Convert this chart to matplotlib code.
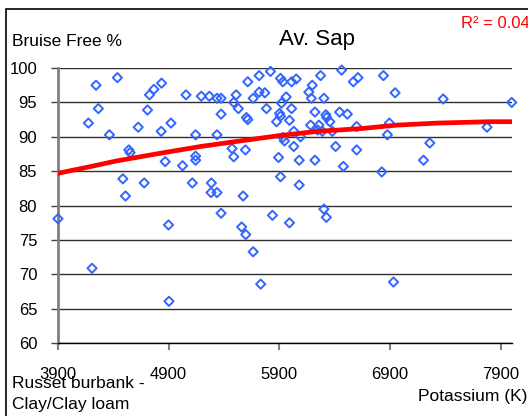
import matplotlib.pyplot as plt
from matplotlib.patches import Rectangle

# potassium (K) vs bruise free %
potassium = [4244, 4437, 4265, 4175, 4365, 4727, 4767, 4836, 5057, 5195,
             5268, 4709, 4625, 4833, 4921, 5144, 4540, 4552, 4869, 5026,
             5144, 5144, 4486, 4679, 5114, 4510, 5337, 5374, 5374, 5337,
             5615, 5718, 5820, 5510, 5488, 5530, 5603, 5615, 5664, 5718,
             5769, 5784, 5911, 5932, 6011, 6053, 5920, 5962, 5902, 5911,
             5875, 6011, 5992, 6031, 6092, 5932, 5947, 6031, 5893, 5911,
             6080, 6080, 6222, 5473, 5488, 5594, 5286, 5283, 5337, 5573,
             6198, 6167, 6189, 6273, 6222, 6303, 6321, 6328, 6357, 6183,
             6246, 6258, 6289, 6379, 6409, 6479, 6463, 6569, 6611, 6445,
             6515, 6599, 6599, 6841, 6946, 7381, 8000, 6895, 6877, 7260,
             7203, 6826, 7777, 3900, 4899, 4208, 4903, 5374, 5560, 5597,
             5664, 5838, 5992, 6303, 6325, 5732, 6932]
bruise_free = [97.5, 98.6, 94.1, 92.0, 90.3, 96.1, 96.9, 97.8, 96.1, 95.9,
               95.9, 93.9, 91.4, 90.8, 92.0, 90.3, 88.1, 87.7, 86.4, 85.8,
               87.2, 86.6, 83.9, 83.3, 83.3, 81.4, 95.6, 95.6, 93.3, 90.3,
               98.0, 98.9, 99.5, 96.1, 95.0, 94.1, 92.8, 92.5, 95.6, 96.5,
               96.4, 94.1, 98.5, 98.0, 98.0, 98.4, 94.9, 95.8, 93.4, 93.0,
               92.2, 94.1, 92.4, 90.8, 90.0, 89.9, 89.4, 88.6, 87.0, 84.2,
               86.6, 83.0, 86.6, 88.3, 87.1, 88.1, 83.3, 81.9, 81.9, 81.4,
               97.5, 96.5, 95.6, 98.9, 93.6, 95.6, 93.2, 92.8, 92.2, 91.7,
               91.0, 91.7, 90.8, 90.8, 88.6, 85.7, 99.7, 98.0, 98.6, 93.6,
               93.3, 91.5, 88.1, 98.9, 96.4, 95.5, 95.0, 92.0, 90.3, 89.1,
               86.6, 84.9, 91.4, 78.1, 77.2, 70.9, 66.1, 78.9, 76.9, 75.8,
               73.3, 78.6, 77.5, 79.5, 78.3, 68.6, 68.9]

# trend line as drawn in the picture
trend_x = [3900, 4200, 4430, 4820, 5190, 5500, 5910, 6250, 6640, 6960, 7330, 7810, 8000]
trend_y = [84.7, 85.7, 86.5, 87.6, 88.6, 89.3, 90.2, 90.8, 91.2, 91.7, 92.0, 92.2, 92.2]

x_ticks = [3900, 4900, 5900, 6900, 7900]
y_ticks = [60, 65, 70, 75, 80, 85, 90, 95, 100]

plt.rcParams['font.family'] = ['Liberation Sans', 'DejaVu Sans']

fig = plt.figure(figsize=(5.28, 4.16), dpi=100)
ax = fig.add_axes([0.1098, 0.1748, 0.8593, 0.6617])

# outer chart border (runs off the right and bottom edges)
fig.patches.append(Rectangle((6 / 528, -0.05), 1.2, 1 - 9 / 416 + 0.05,
                             transform=fig.transFigure, fill=False,
                             edgecolor='black', linewidth=1.2))

ax.scatter(potassium, bruise_free, marker='D', s=22, facecolors='none',
           edgecolors='#3366ff', linewidths=1.4, zorder=3, clip_on=False)
ax.plot(trend_x, trend_y, color='#ff0000', linewidth=3.4, zorder=4,
        solid_capstyle='round')

ax.set_xlim(3900, 8000)
ax.set_ylim(60, 100)
ax.set_xticks(x_ticks)
ax.set_yticks(y_ticks)
ax.yaxis.grid(True, color='#303030', linewidth=1.0)
ax.set_axisbelow(True)

for s in ['top', 'right']:
    ax.spines[s].set_visible(False)
ax.spines['left'].set_color('#808080')
ax.spines['left'].set_linewidth(2)
ax.spines['bottom'].set_color('black')
ax.spines['bottom'].set_linewidth(1)

ax.tick_params(axis='y', length=5, width=1, color='#404040', pad=10, labelsize=12)
ax.tick_params(axis='x', length=5, width=1.5, color='#808080', pad=12, labelsize=12)

fig.text(317 / 528, 1 - 40 / 416, 'Av. Sap', ha='center', va='center', fontsize=16)
fig.text(12 / 528, 1 - 42 / 416, 'Bruise Free %', ha='left', va='center', fontsize=12.5)
fig.text(461 / 528, 1 - 23 / 416, 'R² = 0.04', ha='left', va='center',
         fontsize=12, color='#ff0000')
fig.text(12 / 528, 1 - 383 / 416, 'Russet burbank -', ha='left', va='center', fontsize=12.5)
fig.text(12 / 528, 1 - 405 / 416, 'Clay/Clay loam', ha='left', va='center', fontsize=12.5)
fig.text(527 / 528, 1 - 396 / 416, 'Potassium (K)', ha='right', va='center', fontsize=12.5)

fig.savefig('out.png', dpi=100)
